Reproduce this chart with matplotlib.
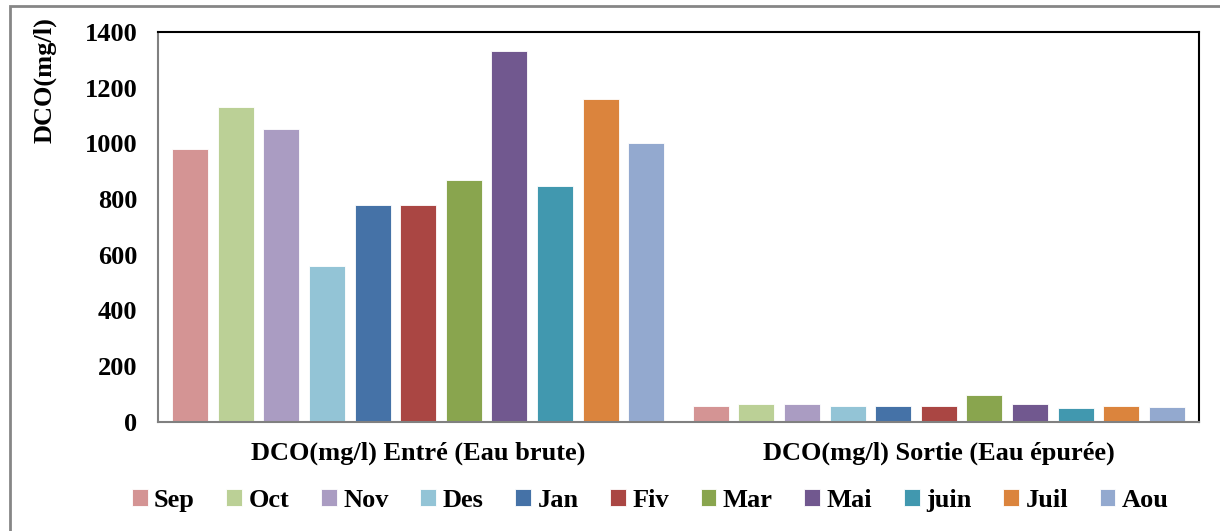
import numpy as np
import matplotlib.pyplot as plt
from matplotlib.patches import Rectangle

groups = ["DCO(mg/l) Entré (Eau brute)", "DCO(mg/l) Sortie (Eau épurée)"]
months = ["Sep", "Oct", "Nov", "Des", "Jan", "Fiv", "Mar", "Mai", "juin", "Juil", "Aou"]
entree = [980, 1130, 1050, 560, 780, 780, 870, 1332, 846, 1160, 1000]
sortie = [57, 62, 65, 57, 58, 58, 95, 63, 50, 56, 52]
colors = ["#D49494", "#BBD096", "#AA9CC2", "#93C4D6", "#4572A7", "#AA4643",
          "#89A54E", "#71588F", "#4198AF", "#DB843D", "#93A9CF"]

plt.rcParams['font.family'] = ['Liberation Serif', 'DejaVu Serif']
plt.rcParams['font.weight'] = 'bold'
fs = 19

fig = plt.figure(figsize=(12.2, 5.31), dpi=100)
ax = fig.add_axes([0.1295, 0.2058, 0.8533, 0.7339])

x = np.arange(len(groups))
pitch = 0.0876
w = 0.069
for i, m in enumerate(months):
    off = (i - (len(months) - 1) / 2) * pitch
    ax.bar(x + off, [entree[i], sortie[i]], w, color=colors[i], label=m,
           edgecolor='white', linewidth=0.6)

ax.set_xlim(-0.5, 1.5)
ax.set_ylim(0, 1400)
ax.set_yticks(range(0, 1401, 200))
ax.set_xticks(x)
ax.set_xticklabels(groups, fontsize=fs, fontweight='bold')
ax.tick_params(axis='both', length=0, labelsize=fs)
ax.tick_params(axis='y', pad=15)
ax.tick_params(axis='x', pad=14)
for t in ax.get_yticklabels():
    t.set_fontweight('bold')

fig.text(45 / 1220, 1 - 80 / 531, "DCO(mg/l)", rotation=90, fontsize=fs,
         fontweight='bold', ha='center', va='center')

for s in ['left', 'bottom']:
    ax.spines[s].set_color('#808080')
    ax.spines[s].set_linewidth(1.5)
for s in ['top', 'right']:
    ax.spines[s].set_color('black')
    ax.spines[s].set_linewidth(1.5)

fig.legend(loc='center', bbox_to_anchor=(0.533, 0.058), ncol=11, frameon=False,
           handlelength=0.6, handleheight=0.6, handletextpad=0.25,
           columnspacing=1.19, prop={'weight': 'bold', 'size': fs})

fig.patches.append(Rectangle((10 / 1220, -0.01), 1.0, 1 - 6 / 531 + 0.01,
                             transform=fig.transFigure, fill=False,
                             edgecolor='#868686', linewidth=2))

fig.savefig("out.png", dpi=100)
